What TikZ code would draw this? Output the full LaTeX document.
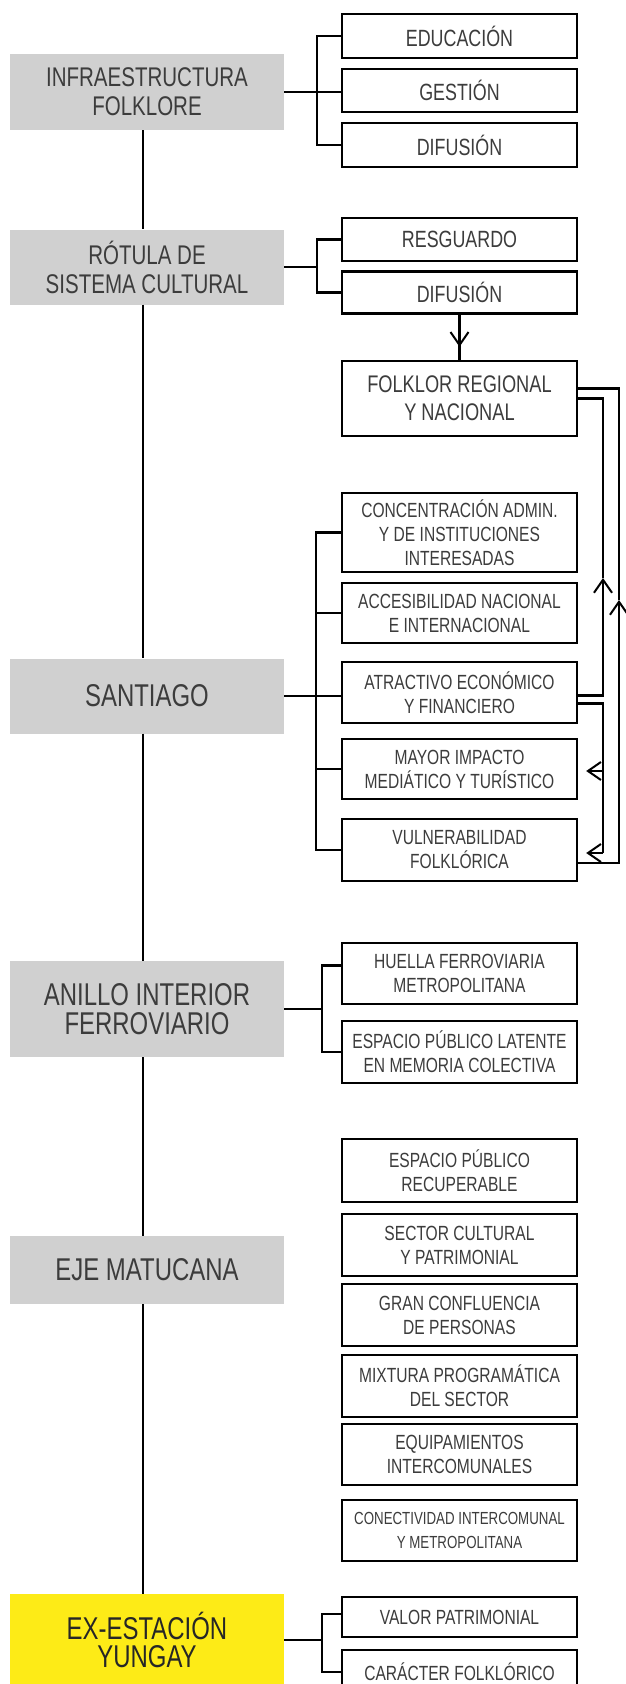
\documentclass[tikz,border=0pt]{standalone}
\usepackage{fontspec}
\setmainfont{Liberation Sans}[FakeStretch=0.76]
\usetikzlibrary{arrows.meta,calc}
\definecolor{boxgray}{HTML}{D0D0D0}
\definecolor{yel}{HTML}{FDEB17}
\definecolor{txt}{HTML}{3C3C3C}
\begin{document}
\begin{tikzpicture}[x=1pt,y=-1pt,
  gbox/.style={fill=boxgray, draw=none, minimum width=274pt, inner sep=0pt, align=center, text=txt, font=\fontsize{31.5}{28.5}\selectfont},
  gsmall/.style={font=\fontsize{27}{29}\selectfont},
  rbox/.style={draw=black, line width=2.4pt, fill=white, minimum width=235pt, inner sep=0pt, align=center, text=txt, font=\fontsize{20.5}{24}\selectfont},
  rbig/.style={font=\fontsize{23.5}{28}\selectfont},
  link/.style={line width=2.2pt},
  trunk/.style={line width=2pt},
  arr/.style={-{Straight Barb[length=13pt,width=18pt,line width=2pt]}}
]
\useasboundingbox (0,0) rectangle (626,1684);
\clip (0,0) rectangle (626,1684);

% left column
\node[gbox, gsmall, minimum height=76pt] (infra) at (147,92) {INFRAESTRUCTURA\\FOLKLORE};
\node[gbox, gsmall, minimum height=75pt] (rotula) at (147,267) {RÓTULA DE\\SISTEMA CULTURAL};
\node[gbox, minimum height=75pt] (santiago) at (147,696) {SANTIAGO};
\node[gbox, minimum height=96pt] (anillo) at (147,1009) {ANILLO INTERIOR\\FERROVIARIO};
\node[gbox, minimum height=68pt] (eje) at (147,1270) {EJE MATUCANA};
\node[gbox, fill=yel, text=black!85, minimum height=92pt] (ex) at (147,1640) {EX-ESTACIÓN\\YUNGAY};

% right column
\node[rbox, rbig, minimum height=44pt] (edu) at (459.5,36) {EDUCACIÓN};
\node[rbox, rbig, minimum height=43pt] (ges) at (459.5,90.5) {GESTIÓN};
\node[rbox, rbig, minimum height=44pt] (dif1) at (459.5,145) {DIFUSIÓN};
\node[rbox, rbig, minimum height=43pt] (res) at (459.5,239.5) {RESGUARDO};
\node[rbox, rbig, minimum height=42pt] (dif2) at (459.5,292.5) {DIFUSIÓN};
\node[rbox, font=\fontsize{24}{28}\selectfont, minimum height=75pt] (fol) at (459.5,398.5) {FOLKLOR REGIONAL\\Y NACIONAL};
\node[rbox, minimum height=79pt] (con) at (459.5,532.5) {CONCENTRACIÓN ADMIN.\\Y DE INSTITUCIONES\\INTERESADAS};
\node[rbox, minimum height=60pt] (acc) at (459.5,613) {ACCESIBILIDAD NACIONAL\\E INTERNACIONAL};
\node[rbox, minimum height=61pt] (atr) at (459.5,692.5) {ATRACTIVO ECONÓMICO\\Y FINANCIERO};
\node[rbox, minimum height=60pt] (may) at (459.5,769) {MAYOR IMPACTO\\MEDIÁTICO Y TURÍSTICO};
\node[rbox, minimum height=62pt] (vul) at (459.5,850) {VULNERABILIDAD\\FOLKLÓRICA};
\node[rbox, minimum height=61pt] (hue) at (459.5,973.5) {HUELLA FERROVIARIA\\METROPOLITANA};
\node[rbox, minimum height=62pt] (lat) at (459.5,1052) {ESPACIO PÚBLICO LATENTE\\EN MEMORIA COLECTIVA};
\node[rbox, minimum height=63pt] (rec) at (459.5,1170.5) {ESPACIO PÚBLICO\\RECUPERABLE};
\node[rbox, minimum height=62pt] (sec) at (459.5,1245) {SECTOR CULTURAL\\Y PATRIMONIAL};
\node[rbox, minimum height=62pt] (gra) at (459.5,1315) {GRAN CONFLUENCIA\\DE PERSONAS};
\node[rbox, minimum height=62pt] (mix) at (459.5,1386) {MIXTURA PROGRAMÁTICA\\DEL SECTOR};
\node[rbox, minimum height=61pt] (equ) at (459.5,1454.5) {EQUIPAMIENTOS\\INTERCOMUNALES};
\node[rbox, font=\fontsize{17.5}{24}\selectfont, minimum height=61pt] (cone) at (459.5,1530.5) {CONECTIVIDAD INTERCOMUNAL\\Y METROPOLITANA};
\node[rbox, minimum height=40pt] (val) at (459.5,1617) {VALOR PATRIMONIAL};
\node[rbox, minimum height=44pt] (car) at (459.5,1672) {CARÁCTER FOLKLÓRICO};

% trunk
\draw[trunk] ([xshift=-4pt]infra.south) -- ([xshift=-4pt]rotula.north);
\draw[trunk] ([xshift=-4pt]rotula.south) -- ([xshift=-4pt]santiago.north);
\draw[trunk] ([xshift=-4pt]santiago.south) -- ([xshift=-4pt]anillo.north);
\draw[trunk] ([xshift=-4pt]anillo.south) -- ([xshift=-4pt]eje.north);
\draw[trunk] ([xshift=-4pt]eje.south) -- ([xshift=-4pt]ex.north);

% infraestructura
\coordinate (bI) at ($(edu.west)+(-24,0)$);
\draw[link] (edu.west) -- (bI) |- (dif1.west);
\draw[link] (infra.east) -- (infra.east -| ges.west);

% rotula
\coordinate (bR) at ($(res.west)+(-24,0)$);
\draw[link] (res.west) -- (bR) |- (dif2.west);
\draw[link] (rotula.east) -- (rotula.east -| bR);
\draw[link] (dif2.south) -- (fol.north);
\draw[link, arr] (dif2.south) -- ($(fol.north)+(0,-13)$);

% santiago
\coordinate (bS) at ($(con.west)+(-25,0)$);
\draw[link] (con.west) -- (bS) |- (vul.west);
\draw[link] (acc.west) -- (acc.west -| bS);
\draw[link] (may.west) -- (may.west -| bS);
\draw[link] (santiago.east) -- (santiago.east -| atr.west);

% feedback loops
\coordinate (iu) at (603,578);
\coordinate (ou) at (619,600);
\draw[link, arr] ($(atr.east)+(0,3)$) -| (iu);
\draw[link] (iu) |- (fol.east);
\draw[link, arr] ($(vul.east)+(0,13)$) -| (ou);
\draw[link] (ou) |- ($(fol.east)+(0,-10)$);
\coordinate (vi) at ($(vul.east)+(8,3)$);
\coordinate (mi) at ($(may.east)+(8,2)$);
\draw[link] ($(atr.east)+(0,11)$) -| (iu |- vi);
\draw[link, arr] (iu |- vi) -- (vi);
\draw[link, arr] (iu |- mi) -- (mi);

% anillo
\coordinate (bA) at ($(hue.west)+(-19,-8)$);
\draw[link] ($(hue.west)+(0,-8)$) -- (bA) |- (lat.west);
\draw[link] (anillo.east) -- (anillo.east -| bA);

% ex-estacion
\coordinate (bE) at ($(val.west)+(-19,-3)$);
\draw[link] ($(val.west)+(0,-3)$) -- (bE) |- (car.west);
\draw[link] (ex.east) -- (ex.east -| bE);
\end{tikzpicture}
\end{document}
